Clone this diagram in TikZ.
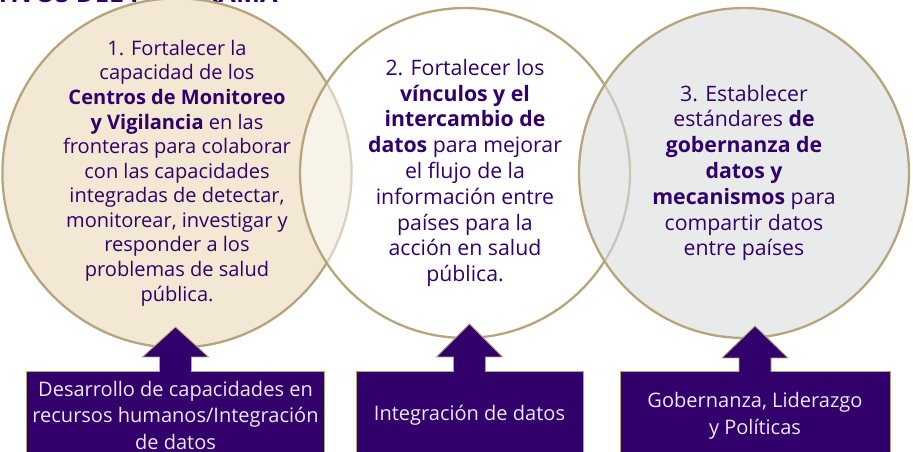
\documentclass[tikz,border=0pt]{standalone}
\usepackage{fontspec}
\setmainfont{Open Sans}
\usepackage{tikz}
\usetikzlibrary{calc}
\definecolor{objpurple}{HTML}{32006B}
\definecolor{objtan}{HTML}{B5A47C}
\definecolor{objbeige}{HTML}{F2E8D4}
\definecolor{objgray}{RGB}{218,222,222}
\definecolor{objlilac}{HTML}{EEE7F6}

\begin{document}
\begin{tikzpicture}[x=0.02cm,y=0.02cm]
\tikzset{goal/.style={draw=objtan,line width=1.3pt,circle,minimum size=6.6cm,inner sep=0pt,
  align=center,text=objpurple,text opacity=1,font=\fontsize{11.4}{14}\selectfont},
  actbox/.style={draw=objtan,line width=0.5pt,fill=objpurple,text=objlilac,align=center,
  anchor=north,minimum height=1.76cm,font=\fontsize{11.4}{15.3}\selectfont},
  uparrow/.style={draw=objtan,line width=0.5pt,fill=objpurple}}
\useasboundingbox (0,0) rectangle (913,452);
\clip (0,0) rectangle (913,452);

% title, cut off at the top
\node[anchor=base east,inner sep=0pt,text=objpurple,font=\bfseries\fontsize{14.5}{14.5}\selectfont] (title) at (278,449.8) {OBJETIVOS DEL PROGRAMA};

% the three goals
\node[goal,fill=objbeige] (g1) at (177,279) {1. Fortalecer la\\capacidad de los\\\textbf{Centros de Monitoreo}\\\textbf{y Vigilancia} en las\\fronteras para colaborar\\con las capacidades\\integradas de detectar,\\monitorear, investigar y\\responder a los\\problemas de salud\\pública.};
\node[goal,fill=white,fill opacity=0.5,font=\fontsize{12.1}{14.7}\selectfont] (g2) at (465,279) {2. Fortalecer los\\\textbf{vínculos y el}\\\textbf{intercambio de}\\\textbf{datos} para mejorar\\el flujo de la\\información entre\\países para la\\acción en salud\\pública.};
\node[goal,fill=objgray,fill opacity=0.6,font=\fontsize{12.1}{14.7}\selectfont] (g3) at (744,279) {3. Establecer\\estándares \textbf{de}\\\textbf{gobernanza de}\\\textbf{datos y}\\\textbf{mecanismos} para\\compartir datos\\entre países};

% boxes
\node[actbox,minimum width=5.94cm] (b1) at (175.5,81) {Desarrollo de capacidades en\\recursos humanos/Integración\\de datos};
\node[actbox,minimum width=4.54cm] (b2) at (469.5,81) {Integración de datos};
\node[actbox,minimum width=5.4cm] (b3) at (755,81) {Gobernanza, Liderazgo\\y Políticas};

% arrows up to the goals
\draw[uparrow] ($(b1.north)+(-16,-1)$) -- ++(0,15) -- ++(-17,0) -- ++(33,30) -- ++(33,-30) -- ++(-17,0) -- ++(0,-15);
\draw[uparrow] ($(b2.north)+(-16,-1)$) -- ++(0,15) -- ++(-17,0) -- ++(33,33) -- ++(33,-33) -- ++(-17,0) -- ++(0,-15);
\draw[uparrow] ($(b3.north)+(-16,-1)$) -- ++(0,14) -- ++(-17,0) -- ++(33,32) -- ++(33,-32) -- ++(-17,0) -- ++(0,-14);

\end{tikzpicture}
\end{document}
